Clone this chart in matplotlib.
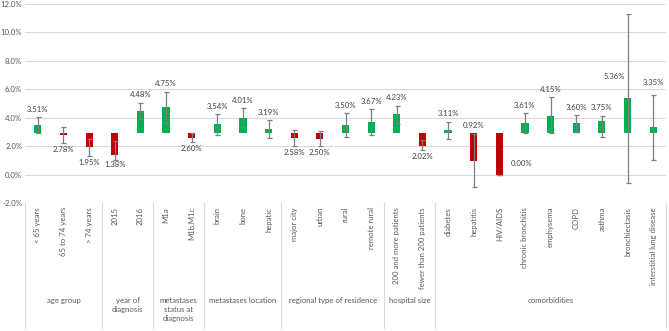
import matplotlib
matplotlib.use("Agg")
import matplotlib.pyplot as plt
import numpy as np

plt.rcParams['font.family'] = ['Lato', 'DejaVu Sans']

# categories and their groups
categories = ['< 65 years', '65 to 74 years', '> 74 years',
              '2015', '2016',
              'M1a', 'M1b,M1c',
              'brain', 'bone', 'hepatic',
              'major city', 'urban', 'rural', 'remote rural',
              '200 and more patients', 'fewer than 200 patients',
              'diabetes', 'hepatitis', 'HIV/AIDS', 'chronic bronchitis',
              'emphysema', 'COPD', 'asthma', 'bronchiectasis',
              'interstitial lung disease']
groups = ['age group', 'year of\ndiagnosis', 'metastases\nstatus at\ndiagnosis',
          'metastases location', 'regional type of residence', 'hospital size',
          'comorbidities']
group_sizes = [3, 2, 2, 3, 4, 2, 9]

# rate (%) and confidence interval
values = [3.51, 2.78, 1.95, 1.38, 4.48, 4.75, 2.60, 3.54, 4.01, 3.19,
          2.58, 2.50, 3.50, 3.67, 4.23, 2.02, 3.11, 0.92, 0.00, 3.61,
          4.15, 3.60, 3.75, 5.36, 3.35]
ci_low = [2.95, 2.22, 1.32, 1.00, 3.92, 3.63, 2.26, 2.79, 3.35, 2.57,
          1.98, 1.98, 2.67, 2.81, 3.56, 1.70, 2.50, -0.87, 0.00, 2.90,
          2.95, 3.00, 2.67, -0.56, 1.04]
ci_high = [4.03, 3.32, 2.50, 2.33, 5.05, 5.83, 2.93, 4.27, 4.67, 3.85,
           3.16, 3.04, 4.34, 4.58, 4.84, 2.40, 3.73, 2.86, 0.00, 4.31,
           5.45, 4.20, 4.15, 11.27, 5.61]
baseline = 2.89

# labels that sit somewhere other than the default spot: (dx, y)
label_override = {'2015': (0, 0.70), 'hepatitis': (0, 3.44),
                  'HIV/AIDS': (0.85, 0.76), 'bronchiectasis': (-0.5, 6.9),
                  'interstitial lung disease': (0, 6.5)}

green = '#00b050'
red = '#c00000'
grey_txt = '#595959'
fs = 5.6

x = np.arange(len(categories))
vals = np.array(values)
heights = vals - baseline
colors = [green if h >= 0 else red for h in heights]

fig = plt.figure(figsize=(6.69, 3.31), dpi=100)
ax = fig.add_axes([25 / 669, 128 / 331, 641 / 669, 199 / 331])

ax.bar(x, heights, bottom=baseline, width=0.28, color=colors, zorder=2)
yerr = np.vstack([vals - np.array(ci_low), np.array(ci_high) - vals])
ax.errorbar(x, vals, yerr=yerr, fmt='none', ecolor='#7f7f7f',
            elinewidth=0.9, capsize=1.8, capthick=0.9, zorder=3)

for i, cat in enumerate(categories):
    if cat in label_override:
        dx, ty = label_override[cat]
    elif heights[i] >= 0:
        dx, ty = 0, ci_high[i] + 0.55
    else:
        dx, ty = 0, ci_low[i] - 0.45
    ax.text(x[i] + dx, ty, f'{values[i]:.2f}%', ha='center', va='center',
            fontsize=fs, color='#404040')

ax.set_xlim(-0.5, len(categories) - 0.5)
ax.set_ylim(-2, 12)
ax.set_yticks(np.arange(-2, 13, 2))
ax.set_yticklabels([f'{t:.1f}%' for t in np.arange(-2, 13, 2)],
                   fontsize=fs, color=grey_txt)
ax.tick_params(axis='y', length=0, pad=2)
ax.set_xticks([])
ax.grid(axis='y', color='#d9d9d9', linewidth=0.8, zorder=0)
for s in ax.spines.values():
    s.set_visible(False)

# multi-level category axis
trans = ax.get_xaxis_transform()
for i, cat in enumerate(categories):
    ax.text(x[i], -0.02, cat, rotation=90, ha='center', va='top',
            fontsize=fs, color=grey_txt, transform=trans)

edges = np.concatenate([[0], np.cumsum(group_sizes)]) - 0.5
for e in edges:
    ax.plot([e, e], [0, -0.63], color='#d9d9d9', linewidth=0.8,
            transform=trans, clip_on=False)
for g, a, b in zip(groups, edges[:-1], edges[1:]):
    ax.text((a + b) / 2, -0.47, g, ha='center', va='top', fontsize=fs,
            color=grey_txt, transform=trans, linespacing=1.4)

fig.savefig('out.png', dpi=100)
